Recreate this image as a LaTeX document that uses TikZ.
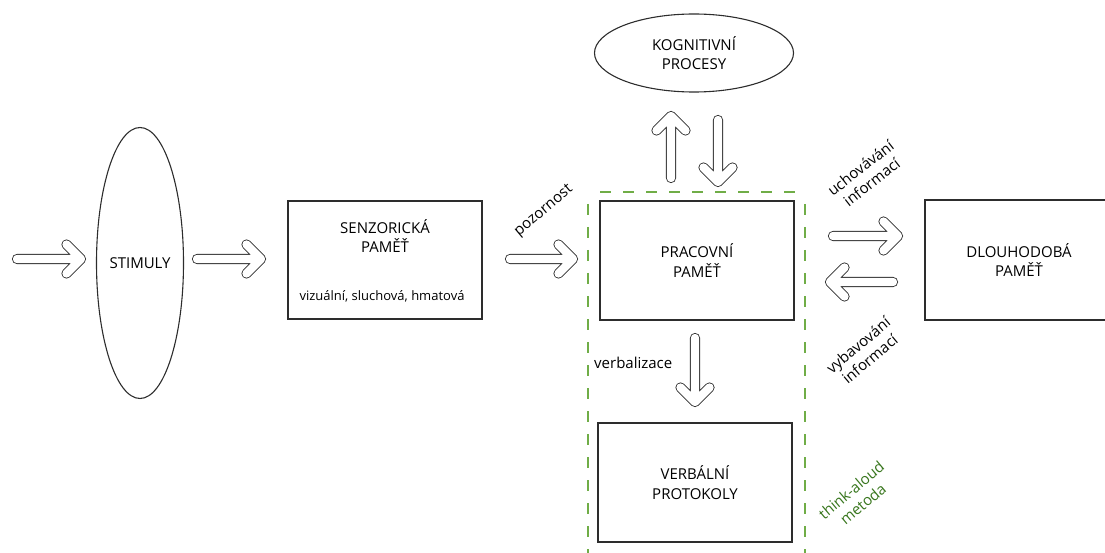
\documentclass[tikz,border=0pt]{standalone}
\usepackage{fontspec}
\setmainfont{Open Sans}
\usetikzlibrary{calc,shapes.geometric}
\definecolor{framegreen}{RGB}{112,173,71}
\definecolor{notegreen}{RGB}{56,118,29}
\definecolor{ink}{RGB}{45,45,45}

% hollow block arrow from #1 (tail) to #2 (tip)
\newcommand\blockarrow[2]{%
  \draw[hollow] (#1) -- (#2)
    ($(#2)!20.5pt!45:(#1)$) -- (#2) -- ($(#2)!20.5pt!-45:(#1)$);}

\begin{document}
\begin{tikzpicture}[x=1pt,y=-1pt,
  box/.style={draw=ink, line width=1.2pt, inner sep=0pt, align=center,
    font=\fontsize{15}{19.5}\selectfont},
  oval/.style={ellipse, draw=ink, line width=1.1pt, inner sep=0pt, align=center,
    font=\fontsize{15}{19.5}\selectfont},
  lbl/.style={align=center, font=\fontsize{15}{18}\selectfont, inner sep=0pt},
  hollow/.style={draw=ink, line width=0.9pt, double=white, double distance=8.4pt,
    line cap=round, line join=round},
  frame/.style={framegreen, line width=1.5pt, dash pattern=on 11pt off 12pt, dash phase=11pt}]

\useasboundingbox (0,0) rectangle (1105,553);
\clip (0,0) rectangle (1105,553);

% boxes and ovals
\node[oval, minimum width=87pt, minimum height=271pt] (stim) at (140,263) {STIMULY};
\node[box, minimum width=194pt, minimum height=118pt] (sens) at (385,260)
  {SENZORICKÁ\\PAMĚŤ\\[28pt]\phantom{x}};
\node[lbl, font=\fontsize{13}{16}\selectfont] (sensnote) at (382,296) {vizuální, sluchová, hmatová};
\node[box, minimum width=194pt, minimum height=119pt] (work) at (697,260.5) {PRACOVNÍ\\PAMĚŤ};
\node[box, minimum width=188pt, minimum height=120pt] (ltm) at (1019,260) {DLOUHODOBÁ\\PAMĚŤ};
\node[box, minimum width=194pt, minimum height=119pt] (verb) at (695,482.5) {VERBÁLNÍ\\PROTOKOLY};
\node[oval, minimum width=199pt, minimum height=78pt] (cog) at (694,53) {KOGNITIVNÍ\\PROCESY};

% dashed frame round working memory and verbal protocols
\draw[frame] (588,192) -- (805,192);
\draw[frame] (588,192) -- (588,570);
\draw[frame] (805,192) -- (805,570);

% arrow end points
\coordinate (inA) at (17,259);   \coordinate (inB) at (81,259);
\coordinate (stA) at (197,259);  \coordinate (stB) at (261,259);
\coordinate (seA) at (510,259);  \coordinate (seB) at (573,259);
\coordinate (upA) at (671,178);  \coordinate (upB) at (671,116);
\coordinate (dnA) at (718,120);  \coordinate (dnB) at (718,182);
\coordinate (vbA) at (695,338);  \coordinate (vbB) at (695,402);
\coordinate (stoA) at (833,236); \coordinate (stoB) at (898,236);
\coordinate (retA) at (893,282); \coordinate (retB) at (830,282);

\blockarrow{inA}{inB}
\blockarrow{stA}{stB}
\blockarrow{seA}{seB}
\blockarrow{upA}{upB}
\blockarrow{dnA}{dnB}
\blockarrow{vbA}{vbB}
\blockarrow{stoA}{stoB}
\blockarrow{retA}{retB}

% labels
\node[lbl, rotate=40] (attn) at (544,211) {pozornost};
\node[lbl, anchor=west] (verbz) at (594,363) {verbalizace};
\node[lbl, rotate=38] (store) at (866,175) {uchovávání\\informací};
\node[lbl, rotate=40] (recall) at (864,352) {vybavování\\informací};
\node[lbl, rotate=40, text=notegreen] (think) at (857,497) {think-aloud\\metoda};
\end{tikzpicture}
\end{document}
